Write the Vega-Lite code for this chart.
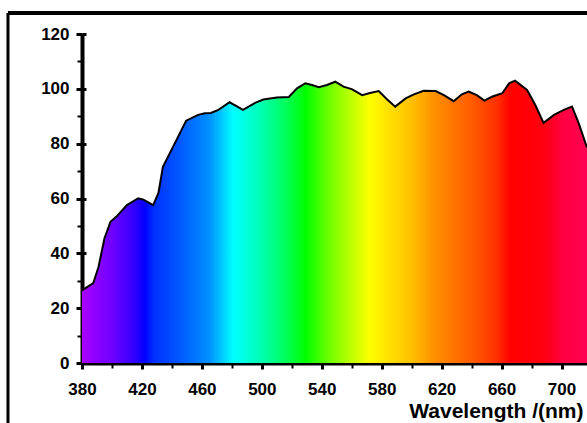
{
  "$schema": "https://vega.github.io/schema/vega-lite/v6.json",
  "width": 505,
  "height": 329,
  "autosize": {"type": "none"},
  "padding": {"left": 82, "top": 34, "right": 0, "bottom": 60},
  "background": "white",
  "config": {
    "view": {"stroke": null},
    "font": "Liberation Sans",
    "axis": {"grid": false, "labelFont": "Liberation Sans", "labelFontWeight": "bold", "labelColor": "black", "labelFontSize": 17, "labelFlush": false, "labelOverlap": false, "domainColor": "black", "tickColor": "black", "titleFont": "Liberation Sans", "titleColor": "black"}
  },
  "datasets": {
    "spectrum": [
      {"wl": 380, "v": 26.5}, {"wl": 387.5, "v": 29.1}, {"wl": 391, "v": 35}, {"wl": 395, "v": 45.5},
      {"wl": 399, "v": 51.5}, {"wl": 403, "v": 53.4}, {"wl": 410, "v": 57.6}, {"wl": 417.5, "v": 60.1},
      {"wl": 421, "v": 59.6}, {"wl": 427.5, "v": 57.6}, {"wl": 431, "v": 62}, {"wl": 434, "v": 71.6},
      {"wl": 443, "v": 81.3}, {"wl": 449.5, "v": 88.4}, {"wl": 457.5, "v": 90.5}, {"wl": 462, "v": 91.1},
      {"wl": 466, "v": 91.2}, {"wl": 471, "v": 92.3}, {"wl": 478.5, "v": 95.1}, {"wl": 487.5, "v": 92.3},
      {"wl": 495.5, "v": 94.9}, {"wl": 501, "v": 96.1}, {"wl": 510, "v": 96.8}, {"wl": 518, "v": 97.0},
      {"wl": 523.5, "v": 100.2}, {"wl": 529, "v": 102.0}, {"wl": 533.5, "v": 101.4}, {"wl": 538, "v": 100.6},
      {"wl": 543.5, "v": 101.4}, {"wl": 549, "v": 102.6}, {"wl": 554.5, "v": 100.8}, {"wl": 560, "v": 99.9},
      {"wl": 567, "v": 97.7}, {"wl": 571.5, "v": 98.4}, {"wl": 578, "v": 99.2}, {"wl": 583.5, "v": 96.2},
      {"wl": 589, "v": 93.5}, {"wl": 596, "v": 96.5}, {"wl": 601.5, "v": 98.0}, {"wl": 608, "v": 99.3},
      {"wl": 616, "v": 99.2}, {"wl": 621.5, "v": 97.7}, {"wl": 628, "v": 95.5}, {"wl": 633.5, "v": 98.0},
      {"wl": 638, "v": 99.0}, {"wl": 643.5, "v": 97.7}, {"wl": 648.5, "v": 95.7}, {"wl": 653.5, "v": 97.1},
      {"wl": 660.5, "v": 98.4}, {"wl": 665, "v": 102.0}, {"wl": 669, "v": 103.0}, {"wl": 677, "v": 99.6},
      {"wl": 682.5, "v": 94.1}, {"wl": 688, "v": 87.6}, {"wl": 695, "v": 90.5}, {"wl": 701.5, "v": 92.3},
      {"wl": 707, "v": 93.5}, {"wl": 711.5, "v": 87.4}, {"wl": 717, "v": 78.6}
    ],
    "frameTop": [{"x": 330.6, "x2": 725, "y": 127.66, "y2": 127.66}],
    "frameLeft": [{"x": 330.6, "x2": 330.6, "y": 127.66, "y2": -25}]
  },
  "layer": [
    {
      "data": {"name": "spectrum"},
      "mark": {
        "type": "area",
        "color": {
          "gradient": "linear", "x1": 0, "y1": 0, "x2": 1, "y2": 0,
          "stops": [
            {"offset": 0, "color": "#aa00ff"},
            {"offset": 0.059, "color": "#7000ff"},
            {"offset": 0.104, "color": "#3000ff"},
            {"offset": 0.125, "color": "#0000ff"},
            {"offset": 0.142, "color": "#0030ff"},
            {"offset": 0.193, "color": "#0058ff"},
            {"offset": 0.252, "color": "#0090ff"},
            {"offset": 0.273, "color": "#00c0ff"},
            {"offset": 0.300, "color": "#00ffff"},
            {"offset": 0.356, "color": "#00ffb0"},
            {"offset": 0.401, "color": "#00ff60"},
            {"offset": 0.442, "color": "#00ff00"},
            {"offset": 0.490, "color": "#70ff00"},
            {"offset": 0.534, "color": "#c0ff00"},
            {"offset": 0.570, "color": "#ffff00"},
            {"offset": 0.608, "color": "#ffe000"},
            {"offset": 0.653, "color": "#ffc000"},
            {"offset": 0.697, "color": "#ff9000"},
            {"offset": 0.742, "color": "#ff7000"},
            {"offset": 0.786, "color": "#ff5000"},
            {"offset": 0.822, "color": "#ff3000"},
            {"offset": 0.849, "color": "#ff0000"},
            {"offset": 0.914, "color": "#ff0010"},
            {"offset": 0.950, "color": "#ff0040"},
            {"offset": 1, "color": "#ff0050"}
          ]
        }
      },
      "encoding": {
        "x": {"field": "wl", "type": "quantitative", "scale": {"domain": [380, 717], "nice": false, "zero": false},
          "axis": {"orient": "bottom", "values": [380, 420, 460, 500, 540, 580, 620, 660, 700], "domainWidth": 4, "tickSize": 6, "tickWidth": 3, "labelPadding": 12,
            "title": "Wavelength /(nm)", "titleFontSize": 21, "titleFontWeight": "bold", "titleAnchor": "start", "titleAlign": "right", "titleX": 501, "titleY": 54, "titleBaseline": "alphabetic"}},
        "y": {"field": "v", "type": "quantitative", "scale": {"domain": [0, 120], "nice": false},
          "axis": {"orient": "left", "values": [0, 20, 40, 60, 80, 100, 120], "domainWidth": 4, "tickSize": 6, "tickWidth": 3, "labelPadding": 7, "title": null}}
      }
    },
    {
      "data": {"name": "spectrum"},
      "mark": {"type": "line", "color": "black", "strokeWidth": 2},
      "encoding": {
        "x": {"field": "wl", "type": "quantitative", "axis": null},
        "y": {"field": "v", "type": "quantitative", "axis": null}
      }
    },
    {
      "data": {"name": "spectrum"},
      "mark": {"type": "line", "opacity": 0},
      "encoding": {
        "x": {"field": "wl", "type": "quantitative",
          "axis": {"orient": "bottom", "values": [400, 440, 480, 520, 560, 600, 640, 680], "labels": false, "domain": false, "tickSize": 5, "tickWidth": 2, "title": null}},
        "y": {"field": "v", "type": "quantitative",
          "axis": {"orient": "left", "values": [10, 30, 50, 70, 90, 110], "labels": false, "domain": false, "tickSize": 5, "tickWidth": 2, "title": null}}
      }
    },
    {
      "data": {"name": "spectrum"},
      "mark": {"type": "line", "opacity": 0},
      "encoding": {
        "x": {"field": "wl", "type": "quantitative",
          "axis": {"orient": "bottom", "values": [380, 420, 460, 500, 540, 580, 620, 660, 700], "labels": false, "domain": false, "tickSize": -4, "tickWidth": 3, "title": null}},
        "y": {"field": "v", "type": "quantitative",
          "axis": {"orient": "left", "values": [0, 20, 40, 60, 80, 100, 120], "labels": false, "domain": false, "tickSize": -4, "tickWidth": 3, "title": null}}
      }
    },
    {
      "data": {"name": "frameTop"},
      "mark": {"type": "rule", "color": "black", "strokeWidth": 4, "clip": false},
      "encoding": {
        "x": {"field": "x", "type": "quantitative", "axis": null},
        "x2": {"field": "x2"},
        "y": {"field": "y", "type": "quantitative", "axis": null},
        "y2": {"field": "y2"}
      }
    },
    {
      "data": {"name": "frameLeft"},
      "mark": {"type": "rule", "color": "black", "strokeWidth": 3, "clip": false},
      "encoding": {
        "x": {"field": "x", "type": "quantitative", "axis": null},
        "x2": {"field": "x2"},
        "y": {"field": "y", "type": "quantitative", "axis": null},
        "y2": {"field": "y2"}
      }
    }
  ],
  "resolve": {"axis": {"x": "independent", "y": "independent"}}
}
